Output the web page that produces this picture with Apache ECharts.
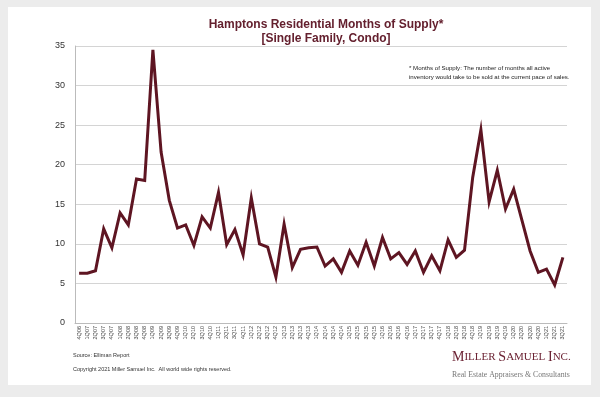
<!DOCTYPE html>
<html>
<head>
  <meta charset="utf-8">
  <title>Hamptons Residential Months of Supply</title>
  <script src="https://cdn.jsdelivr.net/npm/echarts@6/dist/echarts.min.js"></script>
  <style type="text/css">
    html, body { margin: 0; padding: 0; background: #ececec; }
    #chart { width: 600px; height: 397px; }
  </style>
</head>
<body>
  <div id="chart"></div>
  <script>
    // quarters 4Q06 .. 3Q21
    var quarters = ['4Q06',
      '1Q07', '2Q07', '3Q07', '4Q07', '1Q08', '2Q08', '3Q08', '4Q08',
      '1Q09', '2Q09', '3Q09', '4Q09', '1Q10', '2Q10', '3Q10', '4Q10',
      '1Q11', '2Q11', '3Q11', '4Q11', '1Q12', '2Q12', '3Q12', '4Q12',
      '1Q13', '2Q13', '3Q13', '4Q13', '1Q14', '2Q14', '3Q14', '4Q14',
      '1Q15', '2Q15', '3Q15', '4Q15', '1Q16', '2Q16', '3Q16', '4Q16',
      '1Q17', '2Q17', '3Q17', '4Q17', '1Q18', '2Q18', '3Q18', '4Q18',
      '1Q19', '2Q19', '3Q19', '4Q19', '1Q20', '2Q20', '3Q20', '4Q20',
      '1Q21', '2Q21', '3Q21'];

    // months of supply
    var monthsSupply = [6.3,
      6.3, 6.6, 11.9, 9.5, 13.9, 12.4, 18.2, 18.0,
      34.5, 21.6, 15.5, 12.0, 12.4, 9.8, 13.4, 12.0,
      16.5, 9.9, 11.8, 8.6, 15.8, 10.0, 9.6, 5.8,
      12.5, 7.0, 9.3, 9.5, 9.6, 7.2, 8.1, 6.4,
      9.1, 7.3, 10.2, 7.2, 10.8, 8.1, 8.9, 7.4,
      9.1, 6.4, 8.5, 6.6, 10.5, 8.3, 9.2, 18.4,
      24.4, 15.3, 19.3, 14.4, 16.9, 13.0, 9.1, 6.4,
      6.8, 4.8, 8.3];

    var yTicks = [0, 5, 10, 15, 20, 25, 30, 35];

    var maroon = '#5e1522';

    var myChart = echarts.init(document.getElementById('chart'));
    var option = {
      backgroundColor: '#ececec',
      animation: false,
      title: {
        text: 'Hamptons Residential Months of Supply*\n[Single Family, Condo]',
        left: 321,
        textAlign: 'center',
        top: 13,
        textStyle: {
          fontFamily: 'Liberation Sans',
          fontSize: 12,
          fontWeight: 'bold',
          color: '#64202e',
          lineHeight: 14
        }
      },
      graphic: [
        {
          type: 'rect', z: -10,
          shape: { x: 8, y: 7, width: 583, height: 378 },
          style: { fill: '#ffffff' }
        },
        {
          type: 'text', left: 409, top: 64,
          style: {
            text: '* Months of Supply: The number of months all active\ninventory would take to be sold at the current pace of sales.',
            font: '6.1px "Liberation Sans"', fill: '#222', lineHeight: 9
          }
        },
        {
          type: 'text', left: 73, top: 352,
          style: { text: 'Source: Elliman Report', font: '5.5px "Liberation Sans"', fill: '#333' }
        },
        {
          type: 'text', left: 73, top: 366,
          style: { text: 'Copyright 2021 Miller Samuel Inc.  All world wide rights reserved.', font: '5.5px "Liberation Sans"', fill: '#333' }
        },
        {
          type: 'text', left: 452, top: 350,
          style: {
            rich: {
              big: { fontFamily: 'Liberation Serif', fontSize: 14, fill: '#6b2233', color: '#6b2233' },
              sm: { fontFamily: 'Liberation Serif', fontSize: 11, fill: '#6b2233', color: '#6b2233' }
            },
            text: '{big|M}{sm|ILLER }{big|S}{sm|AMUEL }{big|I}{sm|NC.}'
          }
        },
        {
          type: 'text', left: 452, top: 371,
          style: { text: 'Real Estate Appraisers & Consultants', font: '7.8px "Liberation Serif"', fill: '#777' }
        }
      ],
      grid: { left: 75, right: 33, top: 46, bottom: 74 },
      xAxis: {
        type: 'category',
        data: quarters,
        boundaryGap: true,
        axisLine: { lineStyle: { color: '#bbb' } },
        axisTick: { length: 2, lineStyle: { color: '#bbb' } },
        axisLabel: {
          interval: 0, rotate: 90, fontSize: 5.5, margin: 3,
          color: '#444', fontFamily: 'Liberation Sans'
        }
      },
      yAxis: {
        type: 'value',
        min: yTicks[0], max: yTicks[yTicks.length - 1], interval: 5,
        axisLine: { show: true, lineStyle: { color: '#bbb' } },
        axisTick: { show: false },
        axisLabel: { fontSize: 9, color: '#333', margin: 10, fontFamily: 'Liberation Sans' },
        splitLine: { lineStyle: { color: '#d4d4d4' } }
      },
      series: [{
        type: 'line',
        data: monthsSupply,
        symbol: 'none',
        lineStyle: { color: maroon, width: 3, join: 'miter' }
      }]
    };
    myChart.setOption(option);
  </script>
</body>
</html>
